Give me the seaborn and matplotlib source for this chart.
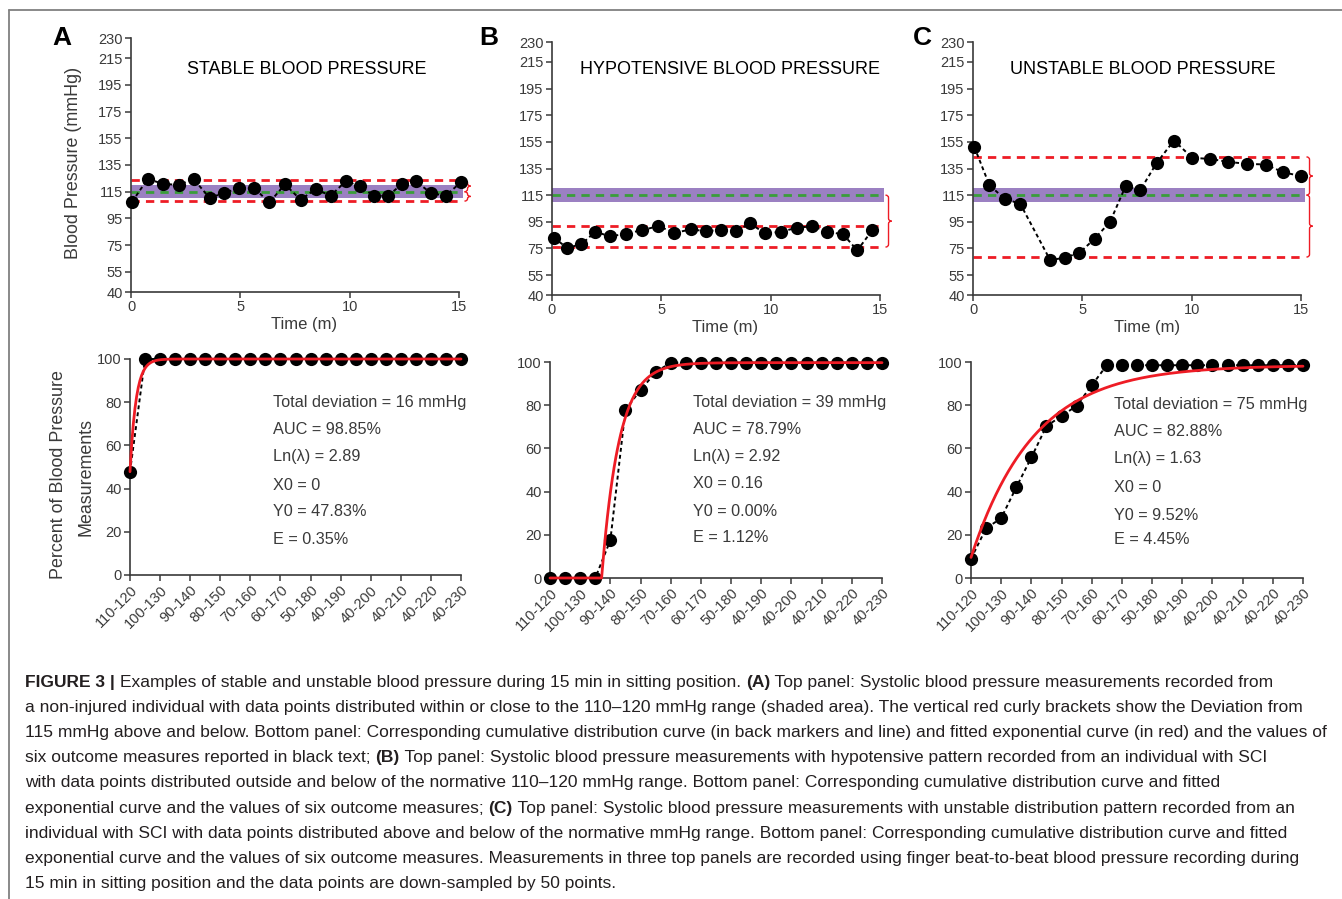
import numpy as np
import pandas as pd
import seaborn as sns
import matplotlib.pyplot as plt
import matplotlib.font_manager as fm
from matplotlib.path import Path
from matplotlib.patches import PathPatch
from matplotlib.lines import Line2D

# ---- data ----
yticks_top = [40, 55, 75, 95, 115, 135, 155, 175, 195, 215, 230]

t_a = [0.05, 0.76, 1.46, 2.18, 2.86, 3.59, 4.26, 4.96, 5.64, 6.33, 7.04, 7.76,
       8.44, 9.13, 9.83, 10.47, 11.12, 11.76, 12.41, 13.02, 13.71, 14.39, 15.08]
bp_a = [107.5, 124.5, 121, 120, 124.5, 110.5, 114, 118, 117.5, 107, 120.5, 109,
        117, 112, 123, 119, 112, 112, 121, 123, 114, 112, 122]
dev_a = (123.5, 108)

t_b = [0.08, 0.69, 1.34, 1.98, 2.66, 3.38, 4.11, 4.87, 5.60, 6.35, 7.03, 7.72,
       8.41, 9.06, 9.75, 10.48, 11.19, 11.91, 12.59, 13.32, 13.96, 14.65]
bp_b = [83, 75.5, 78, 87.5, 84, 86, 88.7, 91.7, 86.7, 89.2, 88, 88.7,
        88, 93.7, 86.2, 87.5, 90.5, 91.7, 87.5, 85.5, 73.5, 88.7]
dev_b = (91.7, 76)

t_c = [0.06, 0.75, 1.45, 2.16, 3.53, 4.19, 4.87, 5.56, 6.27, 6.99, 7.64, 8.40,
       9.19, 10.03, 10.84, 11.67, 12.51, 13.38, 14.18, 15.02]
bp_c = [151.2, 122.5, 112.2, 108.5, 66.2, 68, 71.7, 82.2, 95, 122.2, 118.5, 139.2,
        156, 143, 142.2, 140, 138.5, 138, 132.2, 129.2]
dev_c = (143.7, 68.5)

ranges = ['110-120', '100-130', '90-140', '80-150', '70-160', '60-170',
          '50-180', '40-190', '40-200', '40-210', '40-220', '40-230']
cum_a = [47.83] + [100] * 22
cum_b = [0, 0, 0, 0, 17.5, 78, 87, 95.3, 99.7] + [99.7] * 14
cum_c = [8.9, 23, 27.7, 42, 55.8, 70.3, 75, 79.7, 89.2] + [98.5] * 14

# fitted exponential parameters (x in bin index units)
fit_a = dict(x0=0.0, y0=47.83, top=100.0, k=2.5)
fit_b = dict(x0=3.42, y0=0.0, top=99.7, k=0.87)
fit_c = dict(x0=0.0, y0=9.52, top=98.5, k=0.24)

stats_a = ['Total deviation = 16 mmHg', 'AUC = 98.85%', 'Ln(\u03bb) = 2.89',
           'X0 = 0', 'Y0 = 47.83%', 'E = 0.35%']
stats_b = ['Total deviation = 39 mmHg', 'AUC = 78.79%', 'Ln(\u03bb) = 2.92',
           'X0 = 0.16', 'Y0 = 0.00%', 'E = 1.12%']
stats_c = ['Total deviation = 75 mmHg', 'AUC = 82.88%', 'Ln(\u03bb) = 1.63',
           'X0 = 0', 'Y0 = 9.52%', 'E = 4.45%']

titles = ['STABLE BLOOD PRESSURE', 'HYPOTENSIVE BLOOD PRESSURE', 'UNSTABLE BLOOD PRESSURE']

caption = [
    [('FIGURE 3 | ', True), ('Examples of stable and unstable blood pressure during 15 min in sitting position. ', False),
     ('(A)', True), (' Top panel: Systolic blood pressure measurements recorded from', False)],
    [('a non-injured individual with data points distributed within or close to the 110\u2013120 mmHg range (shaded area). The vertical red curly brackets show the Deviation from', False)],
    [('115 mmHg above and below. Bottom panel: Corresponding cumulative distribution curve (in back markers and line) and fitted exponential curve (in red) and the values of', False)],
    [('six outcome measures reported in black text; ', False), ('(B)', True),
     (' Top panel: Systolic blood pressure measurements with hypotensive pattern recorded from an individual with SCI', False)],
    [('with data points distributed outside and below of the normative 110\u2013120 mmHg range. Bottom panel: Corresponding cumulative distribution curve and fitted', False)],
    [('exponential curve and the values of six outcome measures; ', False), ('(C)', True),
     (' Top panel: Systolic blood pressure measurements with unstable distribution pattern recorded from an', False)],
    [('individual with SCI with data points distributed above and below of the normative mmHg range. Bottom panel: Corresponding cumulative distribution curve and fitted', False)],
    [('exponential curve and the values of six outcome measures. Measurements in three top panels are recorded using finger beat-to-beat blood pressure recording during', False)],
    [('15 min in sitting position and the data points are down-sampled by 50 points.', False)],
]

# ---- style ----
sns.set_theme(style='ticks')
names = {f.name for f in fm.fontManager.ttflist}
NARROW = 'Liberation Sans Narrow' if 'Liberation Sans Narrow' in names else None
plt.rcParams['font.family'] = ['Liberation Sans', 'DejaVu Sans']
if NARROW:
    fig_font = [NARROW, 'DejaVu Sans']
    fs_tick, fs_title, fs_lab, fs_stat, fs_time = 12.5, 19, 16.5, 15, 15
else:
    fig_font = ['Liberation Sans', 'DejaVu Sans']
    fs_tick, fs_title, fs_lab, fs_stat, fs_time = 10.5, 13, 12.9, 11.7, 12

W, H = 1342, 899
RED = '#ee1c25'
GREEN = '#3a9e3a'
PURPLE = '#9b80c2'
TXT = '#231f20'

fig = plt.figure(figsize=(W / 100, H / 100), dpi=100)


def px_axes(l, r, t, b):
    return fig.add_axes([l / W, 1 - b / H, (r - l) / W, (b - t) / H])


def fx(x):
    return x / W


def fy(y):
    return 1 - y / H


def style_ax(ax):
    for s in ['top', 'right']:
        ax.spines[s].set_visible(False)
    for s in ['left', 'bottom']:
        ax.spines[s].set_color('#3a3a3a')
        ax.spines[s].set_linewidth(1.2)
    ax.tick_params(length=4, width=1.1, color='#3a3a3a', labelcolor='#3a3a3a',
                   labelsize=fs_tick, pad=2)
    for lab in ax.get_xticklabels() + ax.get_yticklabels():
        lab.set_family(fig_font)
    ax.set_xlabel('')
    ax.set_ylabel('')


def brace(ax, x, y_hi, y_lo, w=0.28, r=2.0):
    xm = x + w / 2
    ym = (y_hi + y_lo) / 2
    verts = [(x, y_hi), (xm, y_hi), (xm, y_hi - r), (xm, ym + r),
             (xm, ym), (x + w, ym), (xm, ym), (xm, ym - r),
             (xm, y_lo + r), (xm, y_lo), (x, y_lo)]
    codes = [Path.MOVETO, Path.CURVE3, Path.CURVE3, Path.LINETO,
             Path.CURVE3, Path.CURVE3, Path.CURVE3, Path.CURVE3,
             Path.LINETO, Path.CURVE3, Path.CURVE3]
    ax.add_patch(PathPatch(Path(verts, codes), fill=False, edgecolor=RED,
                           lw=1.0, clip_on=False))


top_boxes = [(131, 459, 38, 292), (552, 880, 42, 295), (973, 1301, 42, 295)]
bot_boxes = [(130, 461, 359, 575), (550, 882, 362, 578), (971, 1303, 362, 578)]
top_data = [(t_a, bp_a, dev_a), (t_b, bp_b, dev_b), (t_c, bp_c, dev_c)]
bot_data = [(cum_a, fit_a, stats_a), (cum_b, fit_b, stats_b), (cum_c, fit_c, stats_c)]
title_pos = [(307, 69), (730, 69), (1143, 69)]
letter_pos = [(62, 38), (489, 38), (922, 38)]
xlab_pos = [(304, 324), (725, 327), (1147, 327)]
stat_x = [273, 693, 1114]
stat_y = [[403, 430, 457, 485, 512, 539], [403, 430, 457, 484, 512, 538],
          [405, 432, 459, 487, 515, 540]]

for i in range(3):
    t, bp, dev = top_data[i]
    ax = px_axes(*top_boxes[i])
    ax.axhspan(110, 120, xmin=0, xmax=1.012, color=PURPLE, lw=0, zorder=1, clip_on=False)
    ax.plot([0, 15.15], [115, 115], color=GREEN, lw=2, ls=(0, (3, 2.2)), zorder=2, clip_on=False)
    for d in dev:
        ax.plot([0, 15.2], [d, d], color=RED, lw=2, ls=(0, (3, 2.2)), zorder=2, clip_on=False)
    df = pd.DataFrame({'time': t, 'bp': bp})
    sns.lineplot(data=df, x='time', y='bp', ax=ax, color='black', lw=1.4,
                 ls=(0, (2, 1.6)), marker='o', markersize=9.5, markeredgewidth=0,
                 errorbar=None, zorder=3, clip_on=False)
    ax.set_xlim(0, 15)
    ax.set_ylim(40, 230)
    ax.set_xticks([0, 5, 10, 15])
    ax.set_yticks(yticks_top)
    style_ax(ax)
    # deviation brackets
    hi, lo = dev
    xb = 15.25
    if hi > 115:
        brace(ax, xb, hi, 115, r=min(2.0, (hi - 115) / 4))
    if lo < 115:
        brace(ax, xb, max(hi, 115) if hi < 115 else 115, lo, r=min(2.0, (115 - lo) / 4))
    fig.text(fx(title_pos[i][0]), fy(title_pos[i][1]), titles[i], ha='center', va='center',
             fontsize=fs_title, color='black', family=fig_font)
    fig.text(fx(letter_pos[i][0]), fy(letter_pos[i][1]), 'ABC'[i], ha='center', va='center',
             fontsize=19, fontweight='bold', color='black')
    fig.text(fx(xlab_pos[i][0]), fy(xlab_pos[i][1]), 'Time (m)', ha='center', va='center',
             fontsize=fs_time, color='#3a3a3a', family=fig_font)

for i in range(3):
    cum, fit, stats = bot_data[i]
    ax = px_axes(*bot_boxes[i])
    xs = np.linspace(0, 22, 400)
    ys = np.where(xs < fit['x0'], fit['y0'],
                  fit['top'] - (fit['top'] - fit['y0']) * np.exp(-fit['k'] * (xs - fit['x0'])))
    df = pd.DataFrame({'bin': np.arange(len(cum)), 'pct': cum})
    sns.lineplot(data=df, x='bin', y='pct', ax=ax, color='black', lw=1.4,
                 ls=(0, (2, 1.6)), marker='o', markersize=9.5, markeredgewidth=0,
                 errorbar=None, zorder=3, clip_on=False)
    sns.lineplot(x=xs, y=ys, ax=ax, color=RED, lw=2.0, zorder=4, clip_on=False)
    ax.set_xlim(0, 22)
    ax.set_ylim(0, 100)
    ax.set_xticks(range(0, 23, 2))
    ax.set_xticklabels(ranges, rotation=45, ha='right', rotation_mode='anchor')
    ax.set_yticks(range(0, 101, 20))
    style_ax(ax)
    for j, s in enumerate(stats):
        fig.text(fx(stat_x[i]), fy(stat_y[i][j]), s, ha='left', va='center',
                 fontsize=fs_stat, color='#3a3a3a', family=fig_font)

fig.text(fx(73), fy(163), 'Blood Pressure (mmHg)', rotation=90, ha='center', va='center',
         fontsize=fs_lab, color='#3a3a3a', family=fig_font)
fig.text(fx(59), fy(475), 'Percent of Blood Pressure', rotation=90, ha='center', va='center',
         fontsize=fs_lab, color='#3a3a3a', family=fig_font)
fig.text(fx(86), fy(477), 'Measurements', rotation=90, ha='center', va='center',
         fontsize=fs_lab, color='#3a3a3a', family=fig_font)

# frame lines of the figure box
fig.add_artist(Line2D([fx(9), fx(9)], [fy(10), 0], transform=fig.transFigure, color='#808080', lw=1.3))
fig.add_artist(Line2D([fx(9), 1], [fy(10), fy(10)], transform=fig.transFigure, color='#808080', lw=1.3))

# caption, drawn piece by piece so bold parts sit inline
renderer = fig.canvas.get_renderer()
for k, parts in enumerate(caption):
    x = 25
    yb = 687 + 25.1 * k
    for txt, bold in parts:
        tt = fig.text(fx(x), fy(yb), txt, ha='left', va='baseline', fontsize=12.55,
                      fontweight='bold' if bold else 'normal', color=TXT)
        x += tt.get_window_extent(renderer).width

fig.savefig('out.png', dpi=100)
